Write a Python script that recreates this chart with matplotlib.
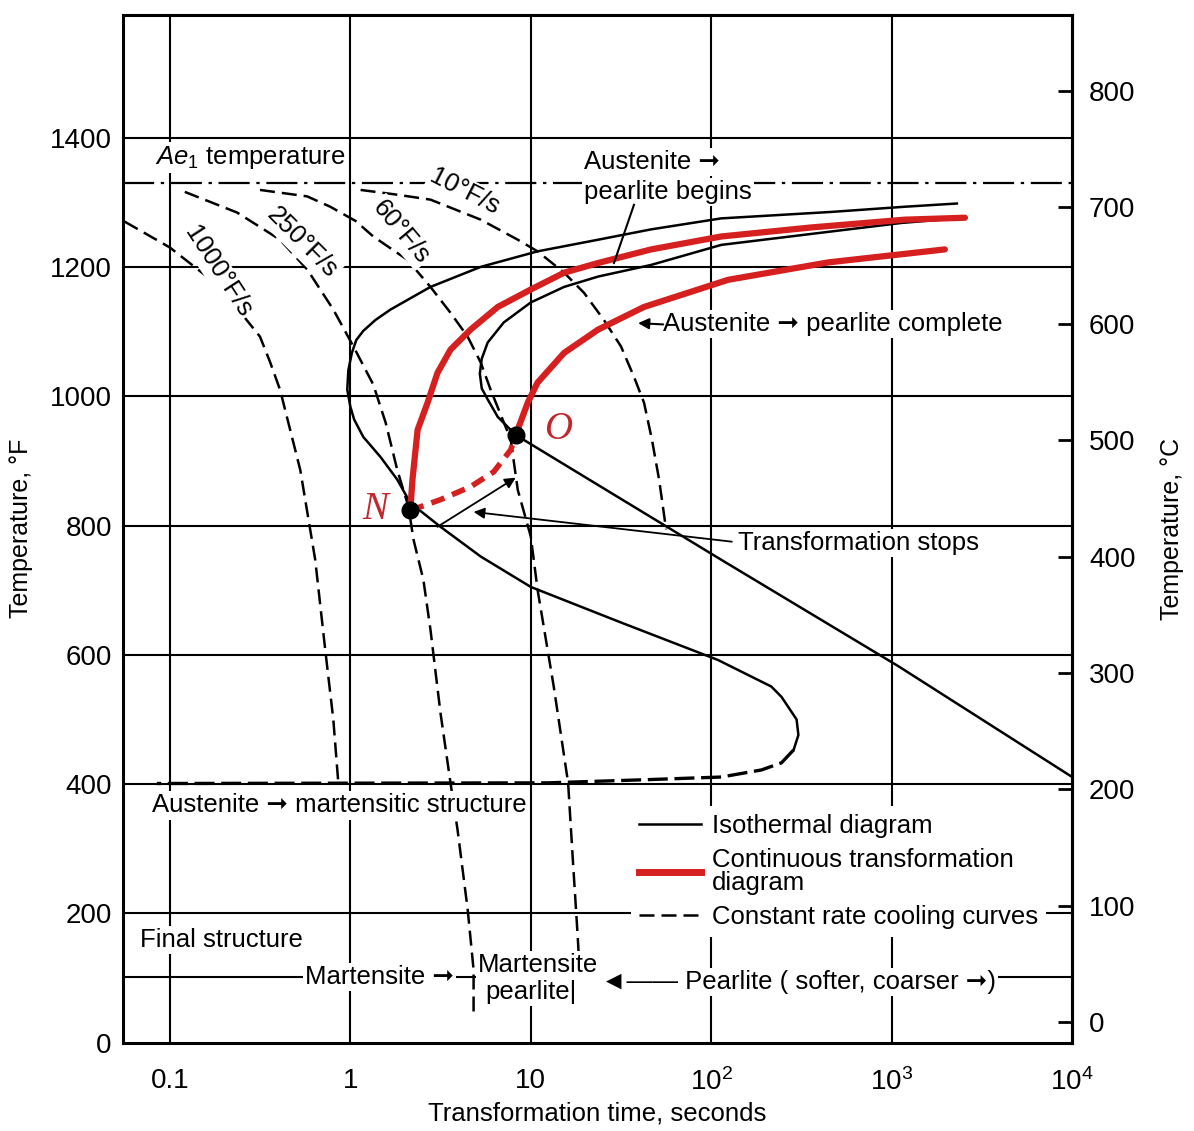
import matplotlib
matplotlib.use("Agg")
import matplotlib.pyplot as plt
from matplotlib.lines import Line2D

plt.rcParams['font.family'] = ['Liberation Sans', 'DejaVu Sans']
plt.rcParams['mathtext.fontset'] = 'custom'
plt.rcParams['mathtext.rm'] = 'Liberation Sans'
plt.rcParams['mathtext.it'] = 'Liberation Sans:italic'

RED = '#d61f1f'

# --- data: time in seconds, temperature in deg F ---
ae1_temp = 1330

# isothermal diagram: austenite -> pearlite begins (solid part)
begin_t = [2296, 1180, 464, 113.6, 46.4, 23.6, 10.9, 5.28, 2.78, 1.67, 1.38, 1.18,
           1.08, 1.02, 0.975, 0.962, 1.0, 1.05, 1.18, 1.47, 1.82, 2.15, 3.16, 5.28,
           10.0, 31.6, 109, 215, 245, 297, 304, 286]
begin_T = [1298, 1293, 1285, 1275, 1258, 1242, 1224, 1200, 1169, 1134, 1118, 1101,
           1087, 1067, 1040, 1010, 984, 964, 937, 906, 871, 835, 798, 752,
           705, 650, 592, 551, 535, 500, 476, 453]
# dashed tail of the begins curve, running into the 400 F line
tail_t = [286, 245, 190, 113.6, 44.7, 12.4, 0.0847]
tail_T = [453, 433, 422, 411, 407, 402, 401]

# isothermal diagram: austenite -> pearlite complete
finish_t = [2545, 1136, 113.6, 46.4, 23.6, 15.3, 10.0, 7.08, 5.77, 5.35, 5.22, 5.35,
            5.77, 6.56, 8.25, 113.6, 1094, 10000]
finish_T = [1276, 1268, 1234, 1203, 1185, 1169, 1145, 1114, 1083, 1058, 1035, 1012,
            995, 968, 940, 747, 582, 411]

# continuous transformation diagram (red)
ct_start_t = [2.15, 2.21, 2.36, 2.68, 3.04, 3.59, 4.64, 6.56, 10.0, 15.3, 23.6, 46.4,
              113.6, 359, 1181, 2545]
ct_start_T = [824, 871, 948, 990, 1036, 1072, 1103, 1138, 1165, 1191, 1206, 1227,
              1247, 1261, 1273, 1276]
ct_finish_t = [8.25, 9.62, 10.9, 15.3, 23.6, 42.4, 124, 447, 1969]
ct_finish_T = [940, 990, 1021, 1067, 1103, 1138, 1180, 1207, 1227]
ct_link_t = [2.15, 2.45, 3.16, 4.64, 6.23, 7.74, 8.25]
ct_link_T = [824, 829, 840, 860, 883, 917, 940]

# points N and O
pt_names = ['N', 'O']
pt_t = [2.15, 8.25]
pt_T = [824, 940]

# constant rate cooling curves
cool_1000_t = [0.0562, 0.1, 0.190, 0.316, 0.359, 0.408, 0.528, 0.639, 0.726, 0.805,
               0.858]
cool_1000_T = [1270, 1230, 1169, 1092, 1053, 1010, 886, 747, 608, 500, 402]
cool_250_t = [0.121, 0.236, 0.408, 0.577, 0.805, 1.04, 1.34, 1.57, 1.82, 2.10, 2.24,
              2.54, 2.78, 3.16, 3.59, 3.93, 4.47, 4.82, 4.82]
cool_250_T = [1316, 1284, 1242, 1196, 1134, 1077, 1018, 959, 886, 829, 778,
              716, 639, 510, 402, 329, 206, 113, 48]
cool_60_t = [0.316, 0.577, 0.774, 1.07, 1.34, 2.07, 2.78, 3.59, 4.47, 5.28, 5.99, 7.74,
             8.47, 10.0, 10.9, 13.4, 16.1, 17.1, 18.2, 18.5]
cool_60_T = [1319, 1309, 1293, 1271, 1247, 1211, 1169, 1129, 1092, 1052, 1010, 933,
             855, 783, 701, 551, 402, 283, 164, 128]
cool_10_t = [1.14, 1.78, 2.78, 5.28, 8.47, 10.9, 15.3, 19.7, 25.4, 31.6, 37.3, 42.4,
             46.9, 51.4, 56.2]
cool_10_T = [1319, 1312, 1304, 1273, 1242, 1224, 1191, 1160, 1118, 1077, 1030, 990,
             933, 871, 794]

rate_labels = ['10°F/s', '60°F/s', '250°F/s', '1000°F/s']
rate_label_t = [4.3, 1.9, 0.54, 0.185]
rate_label_T = [1316, 1254, 1237, 1193]
rate_label_rot = [-27, -50, -45, -57]

# axis ticks and grid
temp_f_ticks = [0, 200, 400, 600, 800, 1000, 1200, 1400]
temp_c_ticks = [0, 100, 200, 300, 400, 500, 600, 700, 800]
time_ticks = [0.1, 1, 10, 100, 1000, 10000]
time_tick_labels = ['0.1', '1', '10', r'$10^2$', r'$10^3$', r'$10^4$']
structure_row_T = 102

fig = plt.figure(figsize=(11.94, 11.31), dpi=100)
ax = fig.add_axes([0.103, 0.078, 0.795, 0.909])
ax.set_xscale('log')
ax.set_xlim(0.055, 1e4)
ax.set_ylim(0, 1590)

# grid
for T in temp_f_ticks[1:] + [structure_row_T]:
    ax.axhline(T, color='k', lw=1.5, zorder=1)
for t in time_ticks[:-1]:
    ax.axvline(t, color='k', lw=1.5, zorder=1)
ax.axhline(ae1_temp, color='k', lw=1.6, dashes=(14, 3, 1.5, 3), zorder=2)

# isothermal diagram
ax.plot(begin_t, begin_T, color='k', lw=1.8, zorder=3)
ax.plot(tail_t, tail_T, color='k', lw=2.4, dashes=(6, 2), zorder=3)
ax.plot(finish_t, finish_T, color='k', lw=1.8, zorder=3)

# cooling curves
for ts, Ts in [(cool_1000_t, cool_1000_T), (cool_250_t, cool_250_T),
               (cool_60_t, cool_60_T), (cool_10_t, cool_10_T)]:
    ax.plot(ts, Ts, color='k', lw=1.8, dashes=(6, 2.8), zorder=3)

# continuous transformation diagram
ax.plot(ct_start_t, ct_start_T, color=RED, lw=4.5, solid_capstyle='round', zorder=4)
ax.plot(ct_finish_t, ct_finish_T, color=RED, lw=4.5, solid_capstyle='round', zorder=4)
ax.plot(ct_link_t, ct_link_T, color=RED, lw=4.0, dashes=(2.5, 1.5), zorder=4)
ax.plot(pt_t, pt_T, 'o', color='k', ms=12, zorder=6)
ax.text(pt_t[0] * 0.64, pt_T[0], pt_names[0], color='#c0282d', fontsize=28,
        family='Liberation Serif', style='italic', ha='center', va='center', zorder=6)
ax.text(pt_t[1] * 1.71, pt_T[1] + 8, pt_names[1], color='#c0282d', fontsize=28,
        family='Liberation Serif', style='italic', ha='center', va='center', zorder=6)

box = dict(fc='white', ec='none', pad=1.5)
fs = 18.5
RA = '\u279e'   # right arrow
LA = '\u25c4'   # left arrow head


def note(x, y, s, **kw):
    ax.text(x, y, s, fontsize=fs, bbox=box, zorder=5, va='center', **kw)


for s, t, T, r in zip(rate_labels, rate_label_t, rate_label_T, rate_label_rot):
    note(t, T, s, rotation=r, ha='center', rotation_mode='anchor')

note(0.083, 1369, r'$Ae_1$ temperature')
note(19.7, 1362, 'Austenite ' + RA)
note(19.7, 1316, 'pearlite begins')
ax.plot([37.3, 28.9], [1296, 1206], color='k', lw=1.5, zorder=5)

note(54.1, 1111, 'Austenite ' + RA + ' pearlite complete')
ax.annotate('', xy=(39.3, 1113), xytext=(54.1, 1111),
            arrowprops=dict(arrowstyle='-|>', color='k', lw=1.5, mutation_scale=16,
                            shrinkA=0, shrinkB=0), zorder=5)

note(141, 773, 'Transformation stops')
ax.annotate('', xy=(4.82, 821), xytext=(130, 775),
            arrowprops=dict(arrowstyle='-|>', color='k', lw=1.3, mutation_scale=16,
                            shrinkA=0, shrinkB=0), zorder=5)
ax.annotate('', xy=(8.25, 874), xytext=(3.04, 798),
            arrowprops=dict(arrowstyle='-|>', color='k', lw=1.3, mutation_scale=16,
                            shrinkA=0, shrinkB=0), zorder=5)

note(0.0794, 367, 'Austenite ' + RA + ' martensitic structure')
note(0.0681, 159, 'Final structure')
note(0.56, 102, 'Martensite ' + RA)
note(5.1, 120, 'Martensite')
note(5.6, 78, 'pearlite|')
note(24.5, 94, LA + '—— Pearlite ( softer, coarser ' + RA + ')')

# legend
handles = [Line2D([], [], color='k', lw=1.8),
           Line2D([], [], color=RED, lw=5),
           Line2D([], [], color='k', lw=1.8, dashes=(6, 2.8))]
labels = ['Isothermal diagram', 'Continuous transformation\ndiagram',
          'Constant rate cooling curves']
leg = ax.legend(handles, labels, loc='upper left', bbox_to_anchor=(0.522, 0.243),
                frameon=True, fancybox=False, edgecolor='none', facecolor='white',
                framealpha=1, fontsize=fs, handlelength=2.4, handletextpad=0.45,
                labelspacing=0.4, borderpad=0.3)
leg.get_texts()[1].set_linespacing(0.95)
leg.set_zorder(6)

# axes and ticks
for sp in ax.spines.values():
    sp.set_linewidth(2.2)
ax.set_xticks(time_ticks)
ax.set_xticklabels(time_tick_labels)
ax.minorticks_off()
ax.set_yticks(temp_f_ticks)
ax.tick_params(axis='both', length=0, labelsize=20)
ax.tick_params(axis='x', pad=18)
ax.tick_params(axis='y', pad=8)
ax.set_xlabel('Transformation time, seconds', fontsize=18.5, labelpad=4)
ax.set_ylabel('Temperature, °F', fontsize=18, labelpad=12)

sec = ax.secondary_yaxis('right', functions=(lambda f: (f - 32) * 5 / 9,
                                             lambda c: c * 9 / 5 + 32))
sec.set_yticks(temp_c_ticks)
sec.tick_params(direction='in', length=10, width=2, labelsize=20, pad=12)
sec.spines['right'].set_linewidth(2.2)
sec.set_ylabel('Temperature, °C', fontsize=18, labelpad=18)

fig.savefig('out.png', dpi=100)
